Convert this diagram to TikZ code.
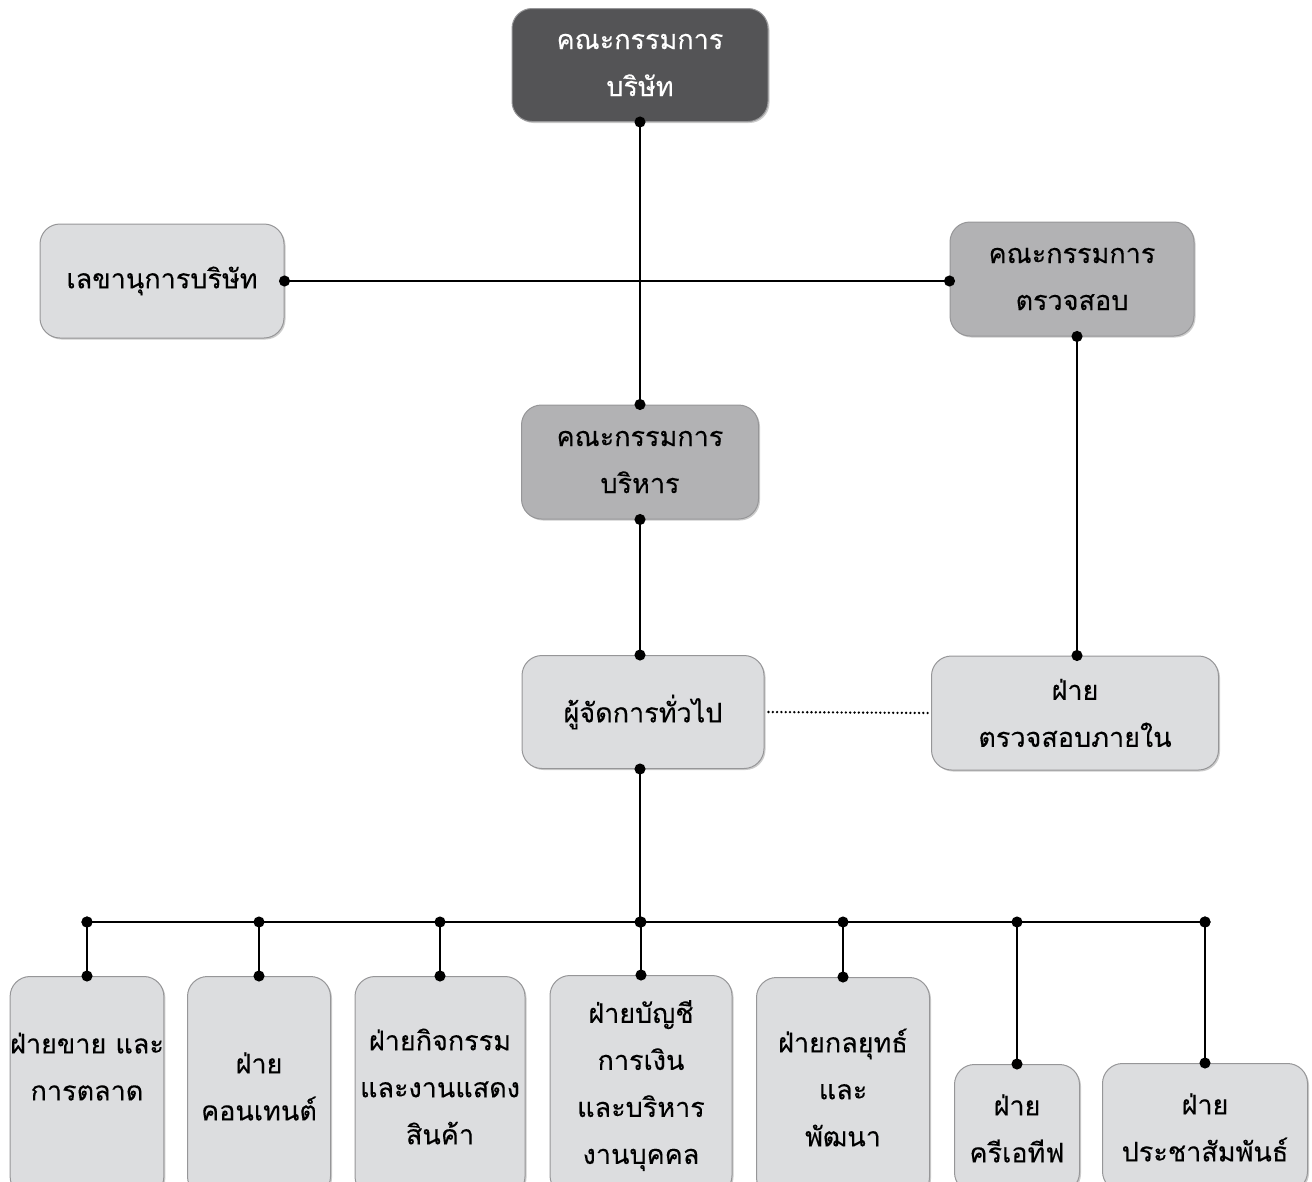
\documentclass[tikz,border=0pt]{standalone}
\usepackage{fontspec}
\newfontfamily\thaifont[Script=Thai, FakeBold=0.2]{Loma}
\usepackage{tikz}
\usetikzlibrary{arrows.meta, positioning, shadows}
\definecolor{boardgray}{RGB}{84,84,86}
\definecolor{midgray}{RGB}{178,178,180}
\definecolor{lightgray}{RGB}{220,221,223}
\definecolor{edgegray}{RGB}{150,150,152}

\begin{document}
\begin{tikzpicture}[
    x=1pt, y=-1pt,
    box/.style={draw=edgegray, line width=1pt, rounded corners=20pt, fill=lightgray, align=center,
        font=\thaifont\fontsize{27}{47}\selectfont, text=black,
        drop shadow={shadow xshift=1.5pt, shadow yshift=-1.5pt, opacity=0.2, fill=black}},
    dept/.style={box, anchor=north, minimum height=220pt, inner xsep=0pt},
    link/.style={line width=1.6pt, {Circle[length=11pt]}-{Circle[length=11pt]}, shorten <=-5.5pt, shorten >=-5.5pt},
]
    \useasboundingbox (0,0) rectangle (1312,1181);
    \node[box, fill=boardgray, text=white, minimum width=256pt, minimum height=113pt] (board) at (640,65) {คณะกรรมการ\\บริษัท};
    \node[box, minimum width=244pt, minimum height=114pt] (secretary) at (162,281) {เลขานุการบริษัท};
    \node[box, fill=midgray, minimum width=244pt, minimum height=114pt] (audit) at (1072,279) {คณะกรรมการ\\ตรวจสอบ};
    \node[box, fill=midgray, minimum width=237pt, minimum height=114pt] (exec) at (640,462) {คณะกรรมการ\\บริหาร};
    \node[box, minimum width=242pt, minimum height=113pt] (gm) at (643,712) {ผู้จัดการทั่วไป};
    \node[box, minimum width=287pt, minimum height=114pt] (internal) at (1075,713) {ฝ่าย\\ตรวจสอบภายใน};
    \node[dept, minimum width=152pt, text depth=40pt] (sales) at (87,976) {ฝ่ายขาย และ\\การตลาด};
    \node[dept, minimum width=143pt] (content) at (259,976) {ฝ่าย\\คอนเทนต์};
    \node[dept, minimum width=170pt] (event) at (440,976) {ฝ่ายกิจกรรม\\และงานแสดง\\สินค้า};
    \node[dept, minimum width=182pt] (account) at (641,975) {ฝ่ายบัญชี\\การเงิน\\และบริหาร\\งานบุคคล};
    \node[dept, minimum width=173pt] (strategy) at (843,977) {ฝ่ายกลยุทธ์\\และ\\พัฒนา};
    \node[dept, minimum width=125pt, minimum height=128pt] (creative) at (1017,1064) {ฝ่าย\\ครีเอทีฟ};
    \node[dept, minimum width=205pt, minimum height=128pt] (pr) at (1205,1063) {ฝ่าย\\ประชาสัมพันธ์};
    \coordinate (bus) at (641,922);
    \draw[link] (board.south) -- (exec.north);
    \draw[link] (secretary.east) -- (secretary.east -| audit.west);
    \draw[link] ([xshift=5pt]audit.south) -- ([xshift=5pt]audit.south |- internal.north);
    \draw[link] (exec.south) -- (exec.south |- gm.north);
    \draw[line width=2.6pt, line cap=round, dash pattern=on 0pt off 4.3pt] ([xshift=4pt]gm.east) -- ([xshift=-3pt]internal.west);
    \draw[link] (exec.south |- gm.south) -- (exec.south |- bus);
    \draw[link] (sales.north |- bus) -- (pr.north |- bus);
    \foreach \d in {sales, content, event, account, strategy, creative, pr}
        \draw[link] (\d.north |- bus) -- (\d.north);
\end{tikzpicture}
\end{document}
